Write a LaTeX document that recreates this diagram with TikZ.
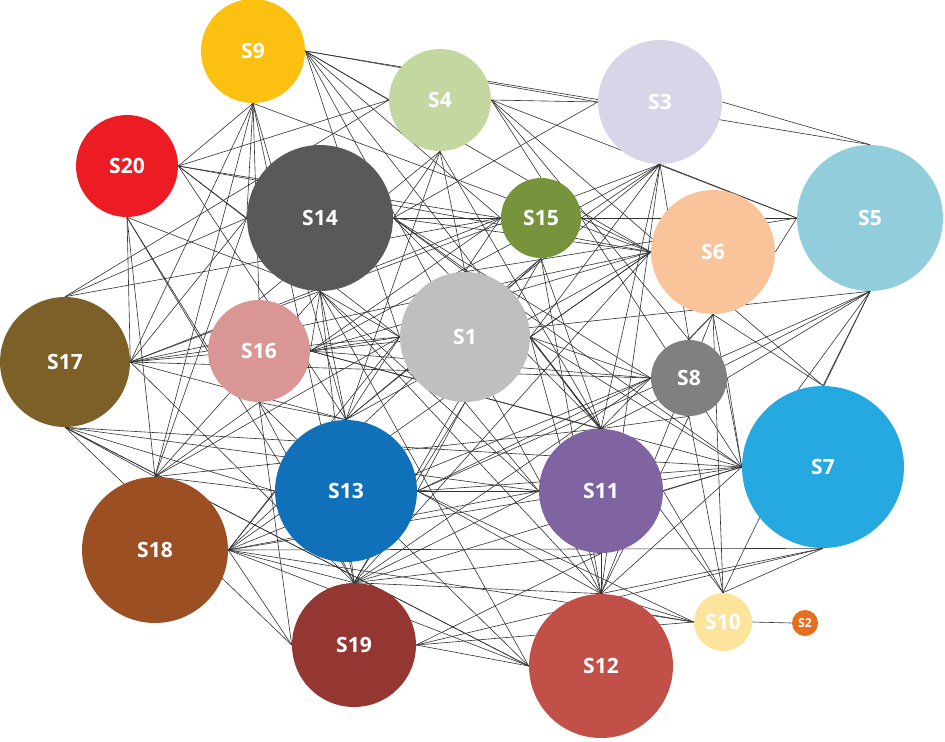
\documentclass[tikz,border=0pt]{standalone}
\usepackage{fontspec}
\setmainfont{Open Sans}
\definecolor{c1}{RGB}{191,191,191}
\definecolor{c2}{RGB}{230,110,30}
\definecolor{c3}{RGB}{217,213,232}
\definecolor{c4}{RGB}{196,215,160}
\definecolor{c5}{RGB}{146,205,220}
\definecolor{c6}{RGB}{249,196,154}
\definecolor{c7}{RGB}{38,169,224}
\definecolor{c8}{RGB}{128,128,128}
\definecolor{c9}{RGB}{252,192,17}
\definecolor{c10}{RGB}{252,228,156}
\definecolor{c11}{RGB}{128,100,162}
\definecolor{c12}{RGB}{192,80,72}
\definecolor{c13}{RGB}{17,112,186}
\definecolor{c14}{RGB}{89,89,89}
\definecolor{c15}{RGB}{119,147,60}
\definecolor{c16}{RGB}{217,150,148}
\definecolor{c17}{RGB}{125,96,40}
\definecolor{c18}{RGB}{156,79,35}
\definecolor{c19}{RGB}{148,55,50}
\definecolor{c20}{RGB}{237,28,36}
\usetikzlibrary{backgrounds}
\begin{document}
\begin{tikzpicture}[x=0.02cm, y=-0.02cm,
  bubble/.style={circle, inner sep=0pt, text=white, font=\bfseries\fontsize{12}{12}\selectfont},
  link/.style={black!80, line width=0.35pt}]
  \useasboundingbox (0,0) rectangle (945,741);

  % topics: number/x/y/radius
  \foreach \n/\x/\y/\r in {9/253/51/52, 4/440/100/51, 3/660/102/62, 20/127/166/51,
    14/320/218/73, 15/541/218/40, 6/713/252/62, 5/870/218/73, 17/65/362/65,
    16/259/351/51, 1/465/337/65, 8/689/378/38, 7/823/467/81, 13/346/491/71,
    11/601/491/62, 18/155/550/73, 19/354/645/62, 12/601/666/72, 10/723/622/29} {
    \node [bubble, fill=c\n, minimum size=\r*0.04cm] (s\n) at (\x,\y) {S\n};
  }
  \node [bubble, fill=c2, minimum size=0.52cm, font=\bfseries\fontsize{7}{7}\selectfont] (s2) at (805,623) {S2};

  % links, behind the topics
  \begin{scope}[on background layer]
  \foreach \a/\b in {s9.east/s4.west, s9.east/s3.west, s9.east/s5.north, s9.east/s15.west,
    s9.east/s6.west, s9.east/s1.west, s9.east/s11.north, s9.east/s12.north,
    s9.south/s20.east, s9.south/s17.east, s9.south/s18.north, s9.south/s16.north,
    s9.south/s13.north, s9.south/s19.north, s9.south/s6.west, s9.south/s14.west,
    s20.east/s4.west, s20.east/s15.west, s20.east/s1.west, s20.east/s14.west,
    s20.east/s6.west, s20.east/s13.north, s20.south/s17.east, s20.south/s18.north,
    s20.south/s16.west, s20.south/s19.north, s20.south/s14.south,
    s4.east/s3.west, s4.east/s5.west, s4.east/s15.north, s4.east/s8.north, s4.east/s7.north,
    s4.south/s14.east, s4.south/s1.north, s4.south/s13.north, s4.south/s11.north,
    s4.south/s16.north, s4.west/s17.north,
    s3.west/s14.east, s3.south/s15.east, s3.south/s5.west, s3.south/s1.east,
    s3.south/s16.east, s3.south/s13.north, s3.south/s11.north, s3.south/s12.north,
    s3.south/s8.north, s3.east/s5.north, s3.south/s17.east,
    s14.east/s15.west, s14.east/s6.west, s14.east/s5.west, s14.east/s1.north,
    s14.east/s8.west, s14.east/s7.west, s14.east/s11.north,
    s14.south/s16.east, s14.south/s13.north, s14.south/s19.north, s14.south/s18.north,
    s14.south/s12.north, s14.south/s11.west, s14.south/s1.west,
    s14.west/s17.east, s14.west/s18.north,
    s17.north/s14.west, s17.north/s15.west,
    s15.west/s16.east, s15.west/s17.east, s15.west/s1.north, s15.east/s6.west,
    s15.east/s5.west, s15.south/s13.north, s15.south/s11.north, s15.south/s12.north,
    s15.south/s19.north, s15.east/s7.west, s15.south/s18.east,
    s6.west/s16.east, s6.west/s17.east, s6.west/s1.east, s6.west/s13.north,
    s6.west/s18.east, s6.west/s19.north, s6.south/s8.north, s6.south/s11.north,
    s6.south/s12.north, s6.south/s7.north, s6.south/s10.north, s6.east/s5.west,
    s6.south/s7.west,
    s5.west/s1.north, s5.south/s8.east, s5.south/s7.north, s5.south/s10.north,
    s5.south/s11.north, s5.south/s13.east, s5.south/s7.west,
    s17.east/s16.west, s17.east/s1.west, s17.east/s13.north, s17.east/s19.north,
    s17.south/s18.north, s17.south/s13.west, s17.south/s11.west, s17.south/s12.west,
    s17.south/s7.west, s17.east/s8.west,
    s16.east/s1.west, s16.east/s8.west, s16.east/s7.west, s16.east/s5.south,
    s16.south/s18.north, s16.south/s19.north, s16.south/s13.north, s16.south/s12.west,
    s16.east/s11.north,
    s1.east/s8.west, s1.east/s7.west, s1.east/s11.north, s1.east/s12.north,
    s1.east/s10.north, s1.west/s18.north, s1.west/s13.north, s1.south/s13.east,
    s1.south/s19.north, s1.south/s11.west, s1.west/s18.east,
    s8.west/s13.east, s8.west/s18.east, s8.south/s11.north, s8.south/s12.north,
    s8.south/s10.north, s8.east/s7.west, s8.west/s19.north,
    s7.west/s13.east, s7.west/s11.east, s7.west/s18.east, s7.west/s12.north,
    s7.south/s12.north, s7.south/s10.north, s7.south/s19.east, s7.south/s18.east,
    s11.west/s13.east, s11.west/s18.east, s11.south/s12.north, s11.south/s19.north,
    s11.north/s18.north, s11.east/s10.north, s11.south/s19.east,
    s12.west/s19.east, s12.west/s18.east, s12.west/s17.south, s12.west/s14.south,
    s12.north/s13.east, s12.north/s19.north, s12.north/s10.west, s12.north east/s10.west,
    s13.east/s10.west, s13.west/s18.north, s13.west/s18.east,
    s19.north/s18.east, s19.west/s18.east, s19.west/s17.south, s19.west/s16.south,
    s19.north/s11.west, s19.north/s7.west, s19.east/s10.west,
    s10.east/s2.west, s18.east/s10.west} {
    \draw [link] (\a) -- (\b);
  }
  \end{scope}
\end{tikzpicture}
\end{document}
